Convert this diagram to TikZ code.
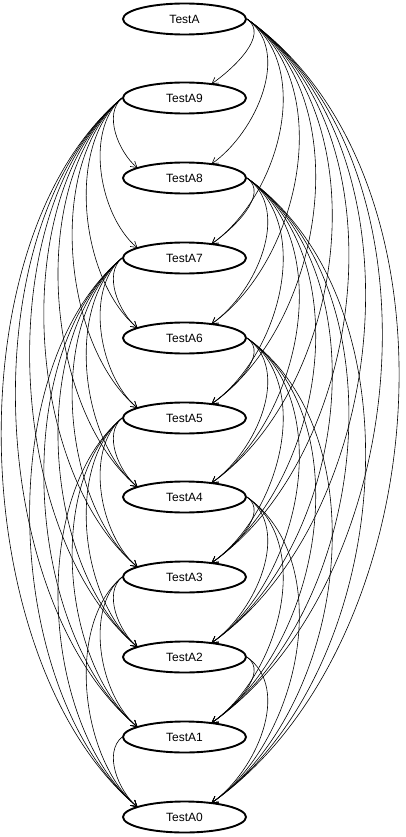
\documentclass[tikz,border=0pt]{standalone}
\usepackage{fontspec}
\setmainfont{Liberation Sans}
\usetikzlibrary{arrows.meta,calc,shapes.geometric}
\begin{document}
\begin{tikzpicture}[x=1pt,y=-1pt,
  state/.style={ellipse,draw,line width=1.9pt,minimum width=123pt,minimum height=31pt,inner sep=0pt,font=\fontsize{12}{14}\selectfont},
  edge/.style={line width=0.6pt,-{Straight Barb[length=6pt,width=7pt]}}]
\useasboundingbox (0,0) rectangle (406,837);
\foreach \k/\lab/\y in {0/TestA/19, 1/TestA9/98, 2/TestA8/178, 3/TestA7/258, 4/TestA6/338, 5/TestA5/418, 6/TestA4/497, 7/TestA3/577, 8/TestA2/657, 9/TestA1/737, 10/TestA0/817}{
  \node[state] (n\k) at (184.5,\y) {\lab};
  \coordinate (r\k) at ($(n\k)+(27,-14)$);
  \coordinate (l\k) at ($(n\k)+(-47,-10)$);
}
\foreach \i in {0,...,9}{
  \pgfmathtruncatemacro{\s}{\i+1}
  \foreach \j in {\s,...,10}{
    \pgfmathsetmacro{\n}{\j-\i}
    \pgfmathsetmacro{\h}{0.2*79.8*\n}
    \ifodd\i\relax
      \pgfmathsetmacro{\dx}{-19*\n}
      \draw[edge] (n\i.west) .. controls +(\dx,\h) and +(\dx,-\h) .. (l\j);
    \else
      \pgfmathsetmacro{\dx}{22.5*\n}
      \draw[edge] (n\i.east) .. controls +(\dx,\h) and +(\dx,-\h) .. (r\j);
    \fi
  }
}
\end{tikzpicture}
\end{document}
